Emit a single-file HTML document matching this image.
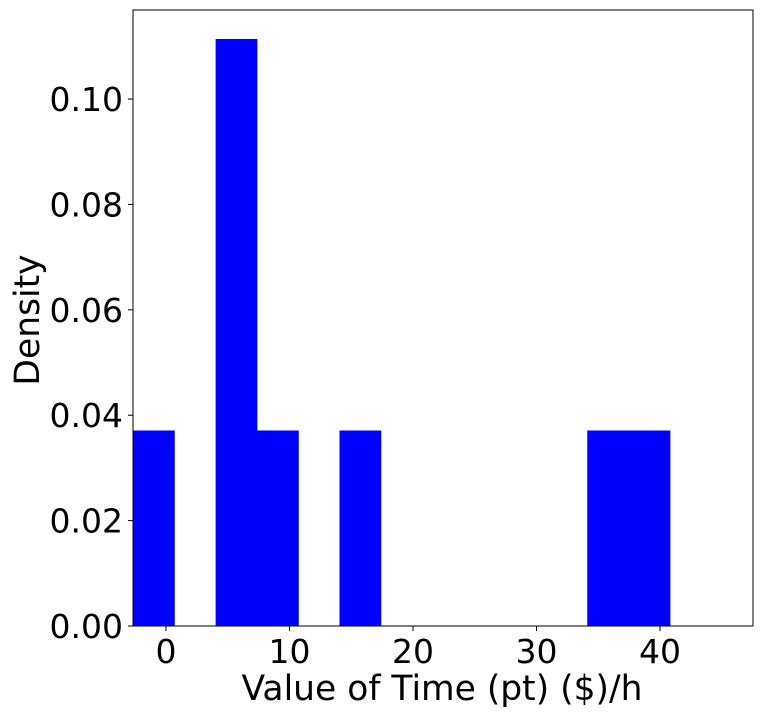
<!DOCTYPE html>
<html><head><meta charset="utf-8"><style>
body{margin:0;background:#fff;}
svg text{font-family:"DejaVu Sans","Liberation Sans",sans-serif;fill:#000;}
</style></head><body>
<svg id="chart" width="762" height="717"></svg>
<script>
const binEdges=[-2.67,0.67,4.02,7.36,10.71,14.05,17.39,20.74,24.08,27.43,30.77,34.11,37.46,40.8];
const densities=[0.0371,0,0.1114,0.0371,0,0.0371,0,0,0,0,0,0.0371,0.0371];
const xTicks=[0,10,20,30,40];
const yTicks=[0,0.02,0.04,0.06,0.08,0.10];
const yTickLabels=["0.00","0.02","0.04","0.06","0.08","0.10"];
const L=133,R=753,T=10,B=626;
const xMin=-2.67,xMax=47.53,yMax=0.1169;
const xs=v=>L+(v-xMin)/(xMax-xMin)*(R-L);
const ys=v=>B-v/yMax*(B-T);
const svg=document.getElementById('chart');
const NS='http://www.w3.org/2000/svg';
function mk(tag,attrs){const e=document.createElementNS(NS,tag);for(const k in attrs)e.setAttribute(k,attrs[k]);svg.appendChild(e);return e;}
for(let i=0;i<densities.length;i++){
 if(densities[i]<=0)continue;
 const r=mk('rect',{x:xs(binEdges[i]),y:ys(densities[i]),width:xs(binEdges[i+1])-xs(binEdges[i])+0.5,height:B-ys(densities[i]),fill:'#0000ff'});
 
 
}
const frame=mk('rect',{x:L,y:T,width:R-L,height:B-T,fill:'none',stroke:'#000','stroke-width':1});


xTicks.forEach(t=>{
 const x=xs(t);
 mk('line',{x1:x,x2:x,y1:B,y2:B+5,stroke:'#000'});
 const tx=mk('text',{x:x,y:B+37,'text-anchor':'middle','font-size':33});
 tx.textContent=t;
 
 
});
yTicks.forEach((t,i)=>{
 const y=ys(t);
 mk('line',{x1:L-5,x2:L,y1:y,y2:y,stroke:'#000'});
 const tx=mk('text',{x:L-10,y:y+12,'text-anchor':'end','font-size':33});
 tx.textContent=yTickLabels[i];
 
 
});
const xl=mk('text',{x:442,y:700,'text-anchor':'middle','font-size':34.5});
xl.textContent='Value of Time (pt) ($)/h';


const yl=mk('text',{x:0,y:0,'text-anchor':'middle','font-size':34.5,transform:'translate(39,320) rotate(-90)'});
yl.textContent='Density';


</script>
</body></html>
